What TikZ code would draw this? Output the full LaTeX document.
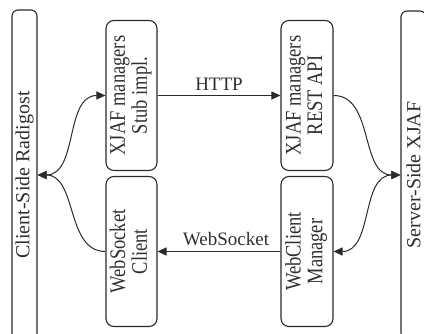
\documentclass[tikz,border=0pt]{standalone}
\usepackage{fontspec}
\setmainfont{Liberation Serif}
\usetikzlibrary{arrows.meta}
\definecolor{linec}{HTML}{2A2A2A}
\definecolor{txtc}{HTML}{2F2F2F}
\newcommand{\boxtext}[2]{\rotatebox{90}{\scalebox{1}[1.2]{\begin{tabular}{@{}c@{}}#1\\#2\end{tabular}}}}
\begin{document}
\begin{tikzpicture}[x=1pt,y=-1pt,
  box/.style={draw=linec, line width=1.1pt, rounded corners=8pt, minimum width=51pt, minimum height=150pt, inner sep=0pt, text=txtc, font=\fontsize{18.5}{18}\selectfont},
  bar/.style={draw=linec, line width=1.1pt, rounded corners=6pt, minimum width=25pt, inner sep=0pt, text=txtc, font=\fontsize{20}{22}\selectfont},
  conn/.style={draw=linec, line width=1pt},
  tipend/.style={-{Triangle[length=9pt,width=8pt]}},
  tipboth/.style={{Triangle[length=9pt,width=8pt]}-{Triangle[length=9pt,width=8pt]}},
  lbl/.style={text=txtc, font=\fontsize{19}{20}\selectfont, inner sep=0pt},
]
\useasboundingbox (0,0) rectangle (424,333);
\clip (0,0) rectangle (424,333);

\node[bar, minimum height=330pt] (lbar) at (24.5,175) {\rotatebox{90}{Client-Side Radigost}};
\node[bar, minimum height=328pt] (rbar) at (413.5,175) {\rotatebox{90}{Server-Side XJAF}};

\node[box] (stub) at (131.5,95.5) {\boxtext{XJAF managers}{Stub impl.}};
\node[box] (wsc) at (131.5,251.5) {\boxtext{WebSocket}{Client}};
\node[box, minimum width=52pt] (rest) at (307,95.5) {\boxtext{XJAF managers}{REST API}};
\node[box, minimum width=52pt] (wcm) at (307,251.5) {\boxtext{WebClient}{Manager}};

\draw[conn, tipend] (stub.east) -- node[lbl, above=5pt] (http) {HTTP} (rest.west);
\draw[conn, tipend] (wcm.west) -- node[lbl, above=5pt, xshift=7pt] (ws) {WebSocket} (wsc.east);

\draw[conn, tipboth] (lbar.east) to[out=0,in=180] (stub.west);
\draw[conn, tipend] (wsc.west) to[out=180,in=0] (lbar.east);
\draw[conn, tipend] (rest.east) to[out=0,in=180] (rbar.west);
\draw[conn, tipboth] (rbar.west) to[out=180,in=0] (wcm.east);
\end{tikzpicture}
\end{document}
